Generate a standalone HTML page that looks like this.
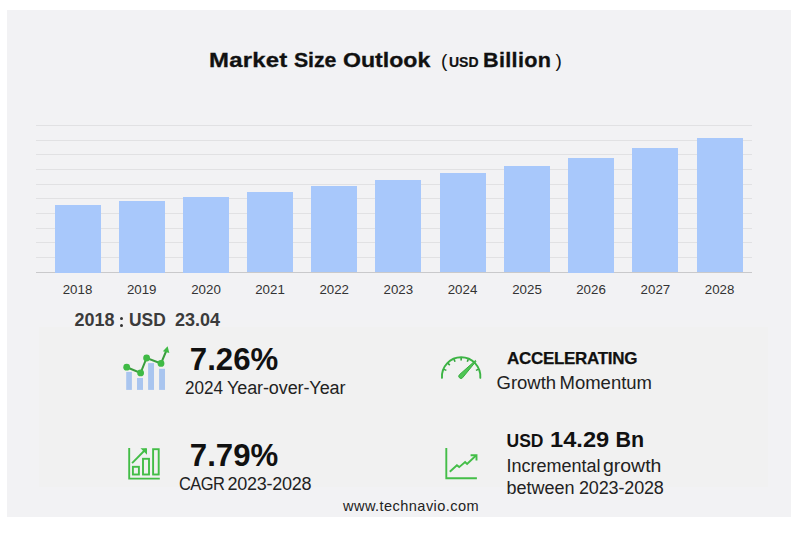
<!DOCTYPE html>
<html><head><meta charset="utf-8">
<style>
html,body{margin:0;padding:0;background:#fff;}
body{width:800px;height:535px;position:relative;overflow:hidden;font-family:"Liberation Sans",sans-serif;}
#card{position:absolute;left:7px;top:10px;width:784px;height:507px;background:#f2f2f4;}
#panel{position:absolute;left:38.5px;top:326.8px;width:729.3px;height:160px;background:#f1f1f1;}
.t{position:absolute;white-space:nowrap;line-height:1;}
.b{font-weight:bold;}
.grid{position:absolute;left:36px;width:716px;height:1px;background:#e1e1e3;}
.axis{position:absolute;left:36px;width:716px;height:1px;background:#c9c9cb;top:272px;}
.bar{position:absolute;width:46px;background:#a8c8fb;bottom:263px;}
.yr{position:absolute;top:283px;width:64px;text-align:center;font-size:13.3px;color:#333;line-height:1;}
svg{position:absolute;overflow:visible;}
</style></head>
<body>
<div id="card"></div>
<div id="panel"></div>

<div class="t b" id="w_market" style="left:209.2px;top:50px;font-size:20.3px;color:#111;letter-spacing:0.2px;transform:scaleX(1.18);transform-origin:0 0;-webkit-text-stroke:0.3px #111;">Market</div>
<div class="t b" id="w_size" style="left:294px;top:50px;font-size:20.3px;color:#111;letter-spacing:-0.1px;transform:scaleX(1.05);transform-origin:0 0;-webkit-text-stroke:0.3px #111;">Size</div>
<div class="t b" id="w_outlook" style="left:342.5px;top:50px;font-size:20.3px;color:#111;letter-spacing:0px;transform:scaleX(1.14);transform-origin:0 0;-webkit-text-stroke:0.3px #111;">Outlook</div>
<div class="t" id="lp" style="left:441px;top:51px;font-size:19px;color:#111;">(</div>
<div class="t b" id="usd1" style="left:449px;top:55px;font-size:14px;color:#111;-webkit-text-stroke:0.2px #111;">USD</div>
<div class="t b" id="bil" style="left:483px;top:50px;font-size:20px;color:#111;letter-spacing:0.3px;transform:scaleX(1.08);transform-origin:0 0;-webkit-text-stroke:0.3px #111;">Billion</div>
<div class="t" id="rp" style="left:555.5px;top:51px;font-size:19px;color:#111;">)</div>

<!-- grid -->
<div class="grid" style="top:125px"></div>
<div class="grid" style="top:140px"></div>
<div class="grid" style="top:154px"></div>
<div class="grid" style="top:169px"></div>
<div class="grid" style="top:184px"></div>
<div class="grid" style="top:198px"></div>
<div class="grid" style="top:213px"></div>
<div class="grid" style="top:228px"></div>
<div class="grid" style="top:242px"></div>
<div class="grid" style="top:257px"></div>
<div class="axis"></div>

<div class="bar" style="left:54.5px;top:204.5px;height:68px"></div>
<div class="bar" style="left:118.7px;top:200.7px;height:72px"></div>
<div class="bar" style="left:183px;top:196.5px;height:76px"></div>
<div class="bar" style="left:247px;top:191.7px;height:80px"></div>
<div class="bar" style="left:311.2px;top:186.2px;height:86px"></div>
<div class="bar" style="left:375.3px;top:180px;height:92px"></div>
<div class="bar" style="left:439.5px;top:173.2px;height:99px"></div>
<div class="bar" style="left:504px;top:166px;height:106px"></div>
<div class="bar" style="left:568px;top:157.5px;height:115px"></div>
<div class="bar" style="left:632.4px;top:148.4px;height:124px"></div>
<div class="bar" style="left:696.6px;top:137.8px;height:134px"></div>

<div class="yr" style="left:45.5px">2018</div>
<div class="yr" style="left:109.7px">2019</div>
<div class="yr" style="left:174px">2020</div>
<div class="yr" style="left:238px">2021</div>
<div class="yr" style="left:302.2px">2022</div>
<div class="yr" style="left:366.3px">2023</div>
<div class="yr" style="left:430.5px">2024</div>
<div class="yr" style="left:495px">2025</div>
<div class="yr" style="left:559px">2026</div>
<div class="yr" style="left:623.4px">2027</div>
<div class="yr" style="left:687.6px">2028</div>

<div class="t b" style="left:74.5px;top:311px;font-size:18px;color:#3b3b3b;">2018</div>
<div style="position:absolute;left:120.2px;top:317px;width:3.2px;height:3.2px;border-radius:50%;background:#333;"></div>
<div style="position:absolute;left:120.2px;top:323.7px;width:3.2px;height:3.2px;border-radius:50%;background:#333;"></div>
<div class="t b" style="left:129.3px;top:311px;font-size:18px;color:#3b3b3b;transform:scaleX(0.965);transform-origin:0 0;">USD</div>
<div class="t b" style="left:175px;top:311px;font-size:18px;color:#3b3b3b;">23.04</div>

<div class="t b" style="left:189.8px;top:344px;font-size:31.2px;color:#111;">7.26%</div>
<div class="t" style="left:184.7px;top:379px;font-size:18px;color:#222;transform:scaleX(0.95);transform-origin:0 0;">2024</div>
<div class="t" style="left:227px;top:379px;font-size:18px;color:#222;letter-spacing:-0.1px;">Year-over-Year</div>

<div class="t b" style="left:189.8px;top:439.5px;font-size:31.2px;color:#111;">7.79%</div>
<div class="t" style="left:179.4px;top:475px;font-size:18px;color:#222;letter-spacing:-0.6px;transform:scaleX(0.915);transform-origin:0 0;">CAGR</div>
<div class="t" style="left:227.5px;top:475px;font-size:18px;color:#222;letter-spacing:-0.25px;">2023-2028</div>

<div class="t b" style="left:507px;top:350px;font-size:17px;color:#111;letter-spacing:-0.3px;-webkit-text-stroke:0.25px #111;">ACCELERATING</div>
<div class="t" style="left:496.5px;top:374px;font-size:18.5px;color:#222;">Growth</div>
<div class="t" style="left:559.5px;top:374px;font-size:18.5px;color:#222;">Momentum</div>

<div class="t b" style="left:506.5px;top:432.5px;font-size:17.5px;color:#111;">USD</div>
<div class="t b" style="left:550px;top:429.5px;font-size:21.5px;color:#111;transform:scaleX(1.1);transform-origin:0 0;">14.29</div>
<div class="t b" style="left:615.5px;top:429.5px;font-size:21.5px;color:#111;">Bn</div>
<div class="t" style="left:506.5px;top:457px;font-size:18px;color:#222;">Incremental</div>
<div class="t" style="left:603px;top:457px;font-size:18px;color:#222;transform:scaleX(1.08);transform-origin:0 0;">growth</div>
<div class="t" style="left:506.5px;top:478.5px;font-size:18px;color:#222;">between</div>
<div class="t" style="left:579px;top:478.5px;font-size:18px;color:#222;letter-spacing:-0.15px;">2023-2028</div>

<div class="t" style="left:343px;top:499px;font-size:14.6px;color:#222;letter-spacing:0.42px;">www.technavio.com</div>

<!-- icon 1: bars + line -->
<svg style="left:0;top:0" width="800" height="535" viewBox="0 0 800 535">
  <g fill="#a9c5ef">
    <rect x="126.2" y="371.9" width="5.7" height="18"/>
    <rect x="137" y="378" width="6" height="11.9"/>
    <rect x="148.1" y="363.1" width="5.9" height="26.8"/>
    <rect x="159.1" y="368.8" width="5.9" height="21.1"/>
  </g>
  <polyline points="126.7,367.2 140.6,372.9 146.6,358 161,363.4 166,351.5" fill="none" stroke="#3a9e3e" stroke-width="2"/>
  <g fill="#3fba45">
    <circle cx="126.7" cy="367.2" r="3.4"/>
    <circle cx="140.6" cy="372.9" r="3.4"/>
    <circle cx="146.6" cy="358" r="3.4"/>
    <circle cx="161" cy="363.4" r="3.4"/>
    <path d="M167.6,346.2 L169.3,353 L162.9,351.2 Z"/>
  </g>

  <!-- icon 2: CAGR -->
  <g fill="none" stroke="#43bd47" stroke-width="1.9">
    <path d="M129.2,448 V478.6 H159.8"/>
    <rect x="132.9" y="466.8" width="6" height="7.7"/>
    <rect x="143" y="458.8" width="6" height="15.7"/>
    <rect x="153.1" y="449.2" width="5.6" height="25.3"/>
    <path d="M132.1,463.1 L146,449"/>
  </g>
  <path d="M140.5,448.2 L147,448.2 L147,454.7 Z" fill="#44be48"/>

  <!-- icon 3: gauge -->
  <path d="M442.0,377.9 A19.2,19.2 0 1 1 480.3,377.9" fill="none" stroke="#3cb444" stroke-width="1.9" stroke-linecap="round"/>
  <path d="M475.93,370.38 L478.33,369.38 M467.27,361.72 L468.27,359.32 M461.15,360.50 L461.15,357.90 M455.03,361.72 L454.03,359.32 M449.84,365.19 L448.00,363.35 M446.37,370.38 L443.97,369.38" stroke="#36a63e" stroke-width="1.6"/>
  <path d="M462.59,377.72 L476.06,361.25 L475.34,360.55 L459.41,374.68 A2.2,2.2 0 1 0 462.59,377.72 Z" fill="#4fc655" stroke="#38ab3f" stroke-width="1" stroke-linejoin="round"/>
  <!-- icon 4: line chart -->
  <g fill="none" stroke="#44be48" stroke-width="1.9">
    <path d="M446.3,447.9 V478.2 H476.9"/>
    <path d="M449.8,471.8 L456.9,465.2 L459.2,467.1 L465.1,462 L467.1,464 L476,455.5"/>
    <path d="M470.6,455.3 H476.5 V460.6"/>
  </g>
</svg>
</body></html>
